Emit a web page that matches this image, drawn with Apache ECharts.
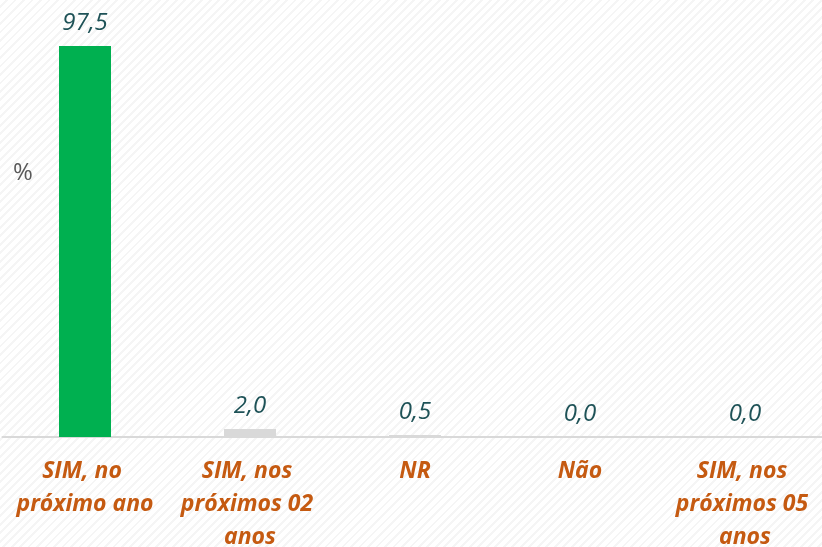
<!DOCTYPE html>
<html>
<head>
<meta charset="utf-8">
<script src="https://cdn.jsdelivr.net/npm/echarts@6/dist/echarts.min.js"></script>
<style>
  html, body { margin: 0; padding: 0; }
  body {
    width: 822px; height: 547px; overflow: hidden;
    background: repeating-linear-gradient(135deg, #ffffff 0px, #ffffff 4px, #f5f5f5 4px, #f5f5f5 6px);
  }
  #chart { width: 822px; height: 547px; }
</style>
</head>
<body>
<div id="chart"></div>
<script>
// Answer categories and their percentage shares
const categories = ['SIM, no próximo ano', 'SIM, nos próximos 02 anos', 'NR', 'Não', 'SIM, nos próximos 05 anos'];
const values = [97.5, 2.0, 0.5, 0.0, 0.0];
const barColors = ['#00b050', '#d9d9d9', '#d9d9d9', '#d9d9d9', '#d9d9d9'];

const chart = echarts.init(document.getElementById('chart'));
chart.setOption({
  backgroundColor: 'transparent',
  animation: false,
  grid: { left: 2.5, right: -5.5, top: 36, bottom: 110, containLabel: false, outerBoundsMode: 'none' },
  graphic: [{
    type: 'text', left: 13, top: 161,
    style: { text: '%', fontFamily: 'Open Sans', fontSize: 24, fill: '#595959' }
  }],
  xAxis: {
    type: 'category',
    data: categories,
    axisLine: { lineStyle: { color: '#d9d9d9', width: 2 } },
    axisTick: { show: false },
    axisLabel: {
      interval: 0,
      margin: 18,
      width: 160,
      overflow: 'break',
      lineHeight: 33,
      fontFamily: 'Open Sans',
      fontSize: 23,
      fontStyle: 'italic',
      fontWeight: 'bold',
      color: '#c55a11',
      align: 'center'
    }
  },
  yAxis: {
    type: 'value', min: 0, max: 100,
    show: false
  },
  series: [{
    type: 'bar',
    barWidth: 52,
    data: values.map((v, i) => ({ value: v, itemStyle: { color: barColors[i] } })),
    label: {
      show: true,
      position: 'top',
      distance: 11,
      fontFamily: 'Open Sans',
      fontSize: 24,
      fontStyle: 'italic',
      color: '#1e5257',
      formatter: p => p.value.toFixed(1).replace('.', ',')
    }
  }]
});
</script>
</body>
</html>
